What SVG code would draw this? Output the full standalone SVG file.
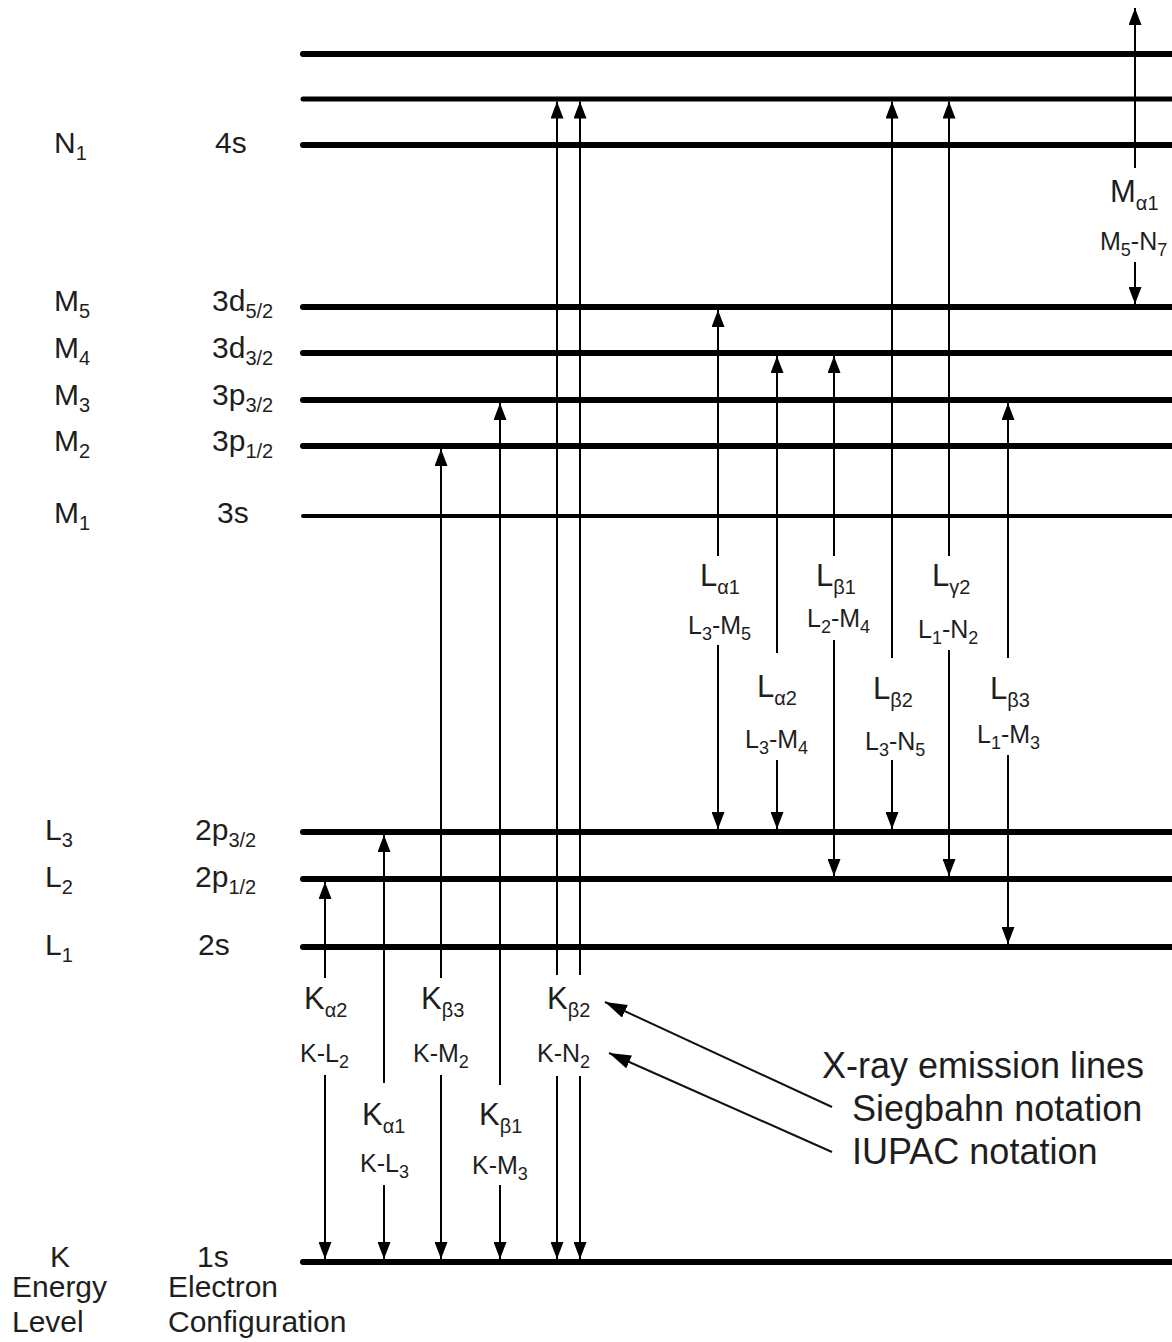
<svg xmlns="http://www.w3.org/2000/svg" width="1172" height="1342" viewBox="0 0 1172 1342">
<style>
text{font-family:"Liberation Sans",Arial,sans-serif;fill:#1e1e1e}
.lv{font-size:30px}
.lv .s{font-size:20px}
.g{font-size:31px}
.g .s{font-size:20px}
.iu{font-size:25px}
.iu .s{font-size:18px}
.note{font-size:36px}
.lvl{stroke:#000;stroke-width:6;stroke-linecap:round;fill:none}
.tr{stroke:#000;stroke-width:2;fill:none}
.up{marker-start:url(#ah)}
.dn{marker-end:url(#ah)}
.ptr{stroke:#111;stroke-width:2;fill:none;marker-end:url(#ph)}
</style>
<defs>
<marker id="ah" viewBox="0 0 17 13" refX="17" refY="6.5" markerWidth="17" markerHeight="13" markerUnits="userSpaceOnUse" orient="auto-start-reverse">
<path d="M0,0 L17,6.5 L0,13 z" fill="#000"/>
</marker>
<marker id="ph" viewBox="0 0 22 14" refX="22" refY="7" markerWidth="22" markerHeight="14" markerUnits="userSpaceOnUse" orient="auto">
<path d="M0,0 L22,7 L0,14 z" fill="#000"/>
</marker>
</defs>

<g id="levels">
<line class="lvl" x1="303" y1="54" x2="1190" y2="54"/>
<line class="lvl" x1="303" y1="99" x2="1190" y2="99" style="stroke-width:5"/>
<line class="lvl" x1="303" y1="145" x2="1190" y2="145"/>
<line class="lvl" x1="303" y1="307" x2="1190" y2="307"/>
<line class="lvl" x1="303" y1="353" x2="1190" y2="353"/>
<line class="lvl" x1="303" y1="400" x2="1190" y2="400"/>
<line class="lvl" x1="303" y1="446" x2="1190" y2="446"/>
<line class="lvl" x1="303" y1="516" x2="1190" y2="516" style="stroke-width:4"/>
<line class="lvl" x1="303" y1="832" x2="1190" y2="832"/>
<line class="lvl" x1="303" y1="879" x2="1190" y2="879"/>
<line class="lvl" x1="303" y1="947" x2="1190" y2="947"/>
<line class="lvl" x1="303" y1="1262" x2="1190" y2="1262"/>
</g>

<g id="level-labels">
<text class="lv" x="54" y="153">N<tspan class="s" dy="7">1</tspan></text>
<text class="lv" x="215" y="153">4s</text>
<text class="lv" x="54" y="311">M<tspan class="s" dy="7">5</tspan></text>
<text class="lv" x="212" y="311">3d<tspan class="s" dy="7">5/2</tspan></text>
<text class="lv" x="54" y="358">M<tspan class="s" dy="7">4</tspan></text>
<text class="lv" x="212" y="358">3d<tspan class="s" dy="7">3/2</tspan></text>
<text class="lv" x="54" y="405">M<tspan class="s" dy="7">3</tspan></text>
<text class="lv" x="212" y="405">3p<tspan class="s" dy="7">3/2</tspan></text>
<text class="lv" x="54" y="451">M<tspan class="s" dy="7">2</tspan></text>
<text class="lv" x="212" y="451">3p<tspan class="s" dy="7">1/2</tspan></text>
<text class="lv" x="54" y="523">M<tspan class="s" dy="7">1</tspan></text>
<text class="lv" x="217" y="523">3s</text>
<text class="lv" x="45" y="840">L<tspan class="s" dy="7">3</tspan></text>
<text class="lv" x="195" y="840">2p<tspan class="s" dy="7">3/2</tspan></text>
<text class="lv" x="45" y="887">L<tspan class="s" dy="7">2</tspan></text>
<text class="lv" x="195" y="887">2p<tspan class="s" dy="7">1/2</tspan></text>
<text class="lv" x="45" y="955">L<tspan class="s" dy="7">1</tspan></text>
<text class="lv" x="198" y="955">2s</text>
<text class="lv" x="50" y="1267">K</text>
<text class="lv" x="197" y="1267">1s</text>
<text class="lv" x="12" y="1297">Energy</text>
<text class="lv" x="12" y="1332">Level</text>
<text class="lv" x="168" y="1297">Electron</text>
<text class="lv" x="168" y="1332">Configuration</text>
</g>

<g id="transitions">
<line class="tr up" x1="325" y1="882" x2="325" y2="978"/>
<line class="tr dn" x1="325" y1="1075" x2="325" y2="1259"/>
<line class="tr up" x1="384" y1="835" x2="384" y2="1083"/>
<line class="tr dn" x1="384" y1="1185" x2="384" y2="1259"/>
<line class="tr up" x1="441" y1="449" x2="441" y2="978"/>
<line class="tr dn" x1="441" y1="1075" x2="441" y2="1259"/>
<line class="tr up" x1="500" y1="403" x2="500" y2="1085"/>
<line class="tr dn" x1="500" y1="1185" x2="500" y2="1259"/>
<line class="tr up" x1="557" y1="101.5" x2="557" y2="975"/>
<line class="tr dn" x1="557" y1="1076" x2="557" y2="1259"/>
<line class="tr up" x1="580" y1="101.5" x2="580" y2="975"/>
<line class="tr dn" x1="580" y1="1076" x2="580" y2="1259"/>
<line class="tr up" x1="718" y1="310" x2="718" y2="556"/>
<line class="tr dn" x1="718" y1="645" x2="718" y2="829"/>
<line class="tr up" x1="777" y1="356" x2="777" y2="653"/>
<line class="tr dn" x1="777" y1="760" x2="777" y2="829"/>
<line class="tr up" x1="834" y1="356" x2="834" y2="556"/>
<line class="tr dn" x1="834" y1="640" x2="834" y2="876"/>
<line class="tr up" x1="892" y1="101.5" x2="892" y2="658"/>
<line class="tr dn" x1="892" y1="760" x2="892" y2="829"/>
<line class="tr up" x1="949" y1="101.5" x2="949" y2="556"/>
<line class="tr dn" x1="949" y1="650" x2="949" y2="876"/>
<line class="tr up" x1="1008" y1="403" x2="1008" y2="658"/>
<line class="tr dn" x1="1008" y1="755" x2="1008" y2="944"/>
<line class="tr up" x1="1135" y1="8" x2="1135" y2="168"/>
<line class="tr dn" x1="1135" y1="262" x2="1135" y2="304"/>
<line class="ptr" x1="832" y1="1107" x2="605" y2="1002"/>
<line class="ptr" x1="832" y1="1152" x2="609" y2="1053"/>
</g>

<g id="line-labels">
<text class="g" x="304" y="1009">K<tspan class="s" dy="8">α2</tspan></text>
<text class="iu" x="300" y="1062">K-L<tspan class="s" dy="6">2</tspan></text>
<text class="g" x="362" y="1125">K<tspan class="s" dy="8">α1</tspan></text>
<text class="iu" x="360" y="1172">K-L<tspan class="s" dy="6">3</tspan></text>
<text class="g" x="421" y="1009">K<tspan class="s" dy="8">β3</tspan></text>
<text class="iu" x="413" y="1062">K-M<tspan class="s" dy="6">2</tspan></text>
<text class="g" x="479" y="1125">K<tspan class="s" dy="8">β1</tspan></text>
<text class="iu" x="472" y="1174">K-M<tspan class="s" dy="6">3</tspan></text>
<text class="g" x="547" y="1009">K<tspan class="s" dy="8">β2</tspan></text>
<text class="iu" x="537" y="1062">K-N<tspan class="s" dy="6">2</tspan></text>

<text class="g" x="700" y="586">L<tspan class="s" dy="8">α1</tspan></text>
<text class="iu" x="688" y="634">L<tspan class="s" dy="6">3</tspan><tspan dy="-6">-M</tspan><tspan class="s" dy="6">5</tspan></text>
<text class="g" x="757" y="697">L<tspan class="s" dy="8">α2</tspan></text>
<text class="iu" x="745" y="748">L<tspan class="s" dy="6">3</tspan><tspan dy="-6">-M</tspan><tspan class="s" dy="6">4</tspan></text>
<text class="g" x="816" y="586">L<tspan class="s" dy="8">β1</tspan></text>
<text class="iu" x="807" y="627">L<tspan class="s" dy="6">2</tspan><tspan dy="-6">-M</tspan><tspan class="s" dy="6">4</tspan></text>
<text class="g" x="873" y="699">L<tspan class="s" dy="8">β2</tspan></text>
<text class="iu" x="865" y="750">L<tspan class="s" dy="6">3</tspan><tspan dy="-6">-N</tspan><tspan class="s" dy="6">5</tspan></text>
<text class="g" x="932" y="586">L<tspan class="s" dy="8">γ2</tspan></text>
<text class="iu" x="918" y="638">L<tspan class="s" dy="6">1</tspan><tspan dy="-6">-N</tspan><tspan class="s" dy="6">2</tspan></text>
<text class="g" x="990" y="699">L<tspan class="s" dy="8">β3</tspan></text>
<text class="iu" x="977" y="743">L<tspan class="s" dy="6">1</tspan><tspan dy="-6">-M</tspan><tspan class="s" dy="6">3</tspan></text>

<text class="g" x="1110" y="202">M<tspan class="s" dy="8">α1</tspan></text>
<text class="iu" x="1100" y="250">M<tspan class="s" dy="6">5</tspan><tspan dy="-6">-N</tspan><tspan class="s" dy="6">7</tspan></text>
</g>

<g id="legend">
<text class="note" x="822" y="1078">X-ray emission lines</text>
<text class="note" x="852" y="1121">Siegbahn notation</text>
<text class="note" x="852" y="1164">IUPAC notation</text>
</g>
</svg>
